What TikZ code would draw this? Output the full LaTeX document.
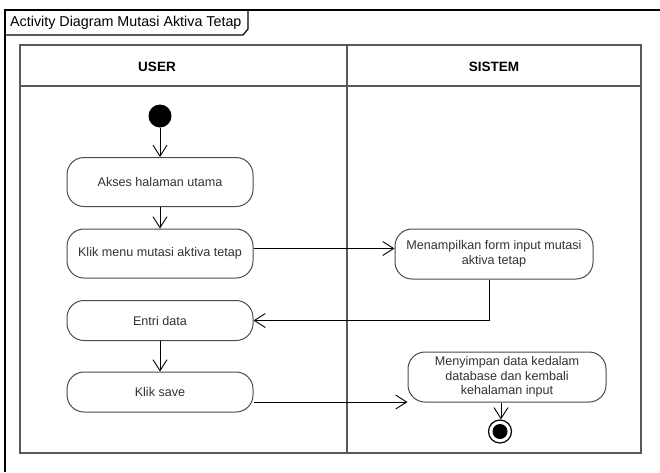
\documentclass[tikz,border=0pt]{standalone}
\usepackage{fontspec}
\setmainfont{Liberation Sans}
\usetikzlibrary{arrows.meta}

\tikzset{
  frameline/.style={line width=1.2pt, black},
  laneline/.style={line width=1.2pt, black!65},
  action/.style={draw=black!70, line width=1pt, rounded corners=17pt,
    minimum width=186pt, minimum height=49pt, inner sep=2pt,
    font=\fontsize{12.6}{14.6}\selectfont, text=black!80, align=center},
  flow/.style={line width=0.9pt, black,
    -{Straight Barb[length=11pt,width=14pt,line width=0.9pt]}},
  lanehead/.style={font=\fontsize{13.5}{15}\selectfont\bfseries}
}

\begin{document}
\begin{tikzpicture}[x=1pt,y=-1pt]
  \useasboundingbox (0,0) rectangle (660,472);
  \fill[white] (0,0) rectangle (660,472);

  % diagram frame with its name tab
  \draw[frameline] (5,472) -- (5,10) -- (660,10);
  \draw[frameline] (5,35) -- (243,35) -- (248,29) -- (248,10);
  \node[anchor=west, font=\fontsize{14.3}{16}\selectfont, inner sep=0pt]
    (title) at (10,23) {Activity Diagram Mutasi Aktiva Tetap};

  % swimlanes
  \draw[laneline] (20,45) rectangle (641,453);
  \draw[laneline] (20,86) -- (641,86);
  \draw[laneline] (347,45) -- (347,453);
  \node[lanehead] (user) at (157,67) {USER};
  \node[lanehead] (sistem) at (494,67) {SISTEM};

  % start and end
  \node[circle, fill=black, minimum size=23pt, inner sep=0pt] (start) at (160,116) {};
  \node[circle, draw=black, line width=1.2pt, minimum size=23pt, inner sep=0pt] (end) at (500,431.5) {};
  \fill[black] (end.center) circle (7.5pt);

  % actions
  \node[action] (akses) at (160,182) {Akses halaman utama};
  \node[action] (menu) at (160,253.5) {Klik menu mutasi aktiva tetap};
  \node[action, minimum height=40pt] (entri) at (160,320.5) {Entri data};
  \node[action, minimum height=40pt] (save) at (160,392) {Klik save};
  \node[action, minimum width=198pt, minimum height=50pt] (form) at (494,254)
    {Menampilkan form input mutasi\\aktiva tetap};
  \node[action, minimum width=198pt, minimum height=50pt] (simpan) at (507,377)
    {Menyimpan data kedalam\\database dan kembali\\kehalaman input};

  % control flow
  \draw[flow] (start) -- (akses);
  \draw[flow] (akses) -- (menu);
  \draw[flow] ([yshift=5pt]menu.east) -- ([yshift=5pt]menu.east -| form.west);
  \draw[flow] ([xshift=-5pt]form.south) |- (entri.east);
  \draw[flow] (entri) -- (save);
  \draw[flow] ([yshift=-10pt]save.east) -- ([yshift=-10pt]save.east -| simpan.west);
  \draw[flow] ([xshift=-6pt]simpan.south) -- ([xshift=-6pt]simpan.south |- end.north);
\end{tikzpicture}
\end{document}
